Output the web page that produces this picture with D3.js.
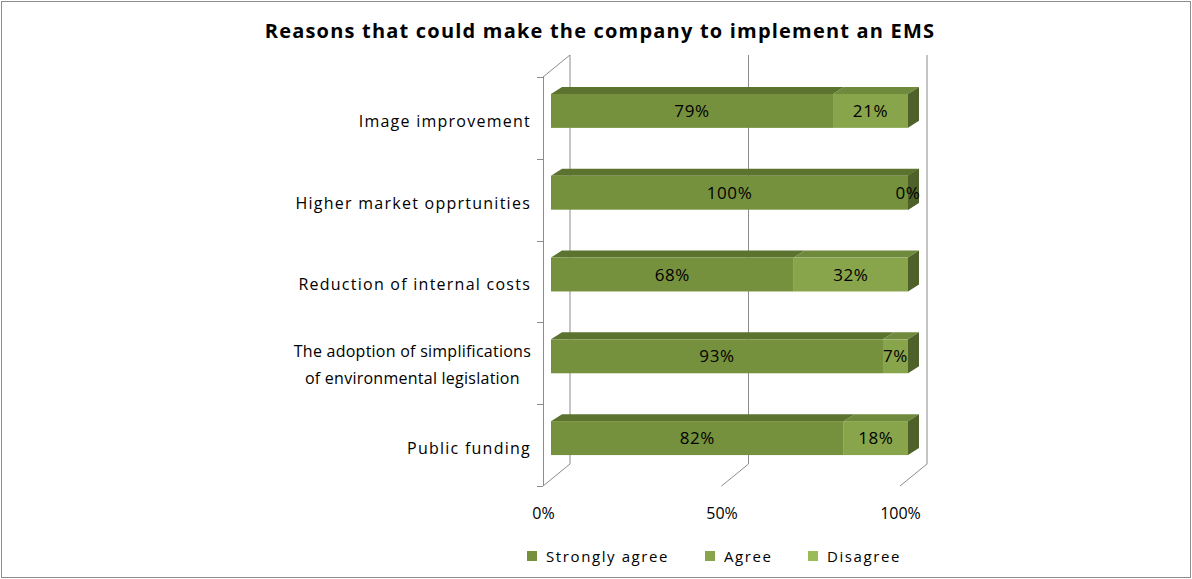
<!DOCTYPE html>
<html>
<head>
<meta charset="utf-8">
<script src="https://cdn.jsdelivr.net/npm/d3@7"></script>
<style>
  body { margin: 0; background: #fff; }
  text { font-family: "Open Sans", sans-serif; fill: #000; }
</style>
</head>
<body>
<script>
// chart data
var categories = ['Image improvement', 'Higher market opprtunities', 'Reduction of internal costs',
    'The adoption of simplifications\nof environmental legislation', 'Public funding'];
var seriesNames = ['Strongly agree', 'Agree', 'Disagree'];
var stronglyAgree = [0.79, 1.00, 0.68, 0.93, 0.82];
var agree = [0.21, 0.00, 0.32, 0.07, 0.18];
var disagree = [null, null, null, null, null];
var xTicks = [0, 0.5, 1];

var W = 1192, H = 579;
var colors = {
    'Strongly agree': { front: '#76913d', top: '#5c722f', side: '#4d6128' },
    'Agree': { front: '#89a54c', top: '#6f8a3d', side: '#4d6128' },
    'Disagree': { front: '#9bbb59', top: '#7f9a48', side: '#5e7533' }
};

var svg = d3.select('body').append('svg')
    .attr('width', W)
    .attr('height', H);

// outer chart border
svg.append('rect')
    .attr('x', 1.5).attr('y', 1.5)
    .attr('width', W - 3).attr('height', H - 3)
    .attr('fill', '#fff')
    .attr('stroke', '#8c8c8c');

// title
svg.append('text')
    .attr('x', 600).attr('y', 38)
    .attr('text-anchor', 'middle')
    .style('font-size', '20px')
    .style('font-weight', 'bold')
    .style('letter-spacing', '1.2px')
    .text('Reasons that could make the company to implement an EMS');

// scales on the front plane of the 3D box
var x = d3.scaleLinear().domain([0, 1]).range([543, 900]);
var y = d3.scaleBand().domain(categories).range([77, 486]);
var depth = [27, -22];      // full depth of the box
var barOff = [8, -7];       // bar front face offset into the box
var barDepth = [11, -7];    // bar thickness
var barH = y.step() * 0.415;

var g = svg.append('g');
var grid = '#8c8c8c';

// back wall gridlines and floor diagonals
xTicks.forEach(function(t) {
    g.append('line')
        .attr('x1', x(t) + depth[0]).attr('x2', x(t) + depth[0])
        .attr('y1', 486 + depth[1]).attr('y2', 77 + depth[1])
        .attr('stroke', grid);
    g.append('line')
        .attr('x1', x(t)).attr('y1', 486)
        .attr('x2', x(t) + depth[0]).attr('y2', 486 + depth[1])
        .attr('stroke', grid);
});
// left wall
g.append('line')
    .attr('x1', 543.5).attr('x2', 543.5).attr('y1', 77).attr('y2', 486)
    .attr('stroke', grid);
g.append('line')
    .attr('x1', 543).attr('y1', 77)
    .attr('x2', 543 + depth[0]).attr('y2', 77 + depth[1])
    .attr('stroke', grid);
// category ticks at band edges
categories.concat(['end']).forEach(function(c, i) {
    var yy = i < categories.length ? y(c) : 486;
    g.append('line')
        .attr('x1', 537).attr('x2', 543)
        .attr('y1', Math.round(yy) + 0.5).attr('y2', Math.round(yy) + 0.5)
        .attr('stroke', grid);
});

// x axis labels
var xAxis = d3.axisBottom(x).tickValues(xTicks).tickFormat(d3.format('.0%'))
    .tickSize(0).tickPadding(22);
var xg = svg.append('g').attr('transform', 'translate(0,486)').call(xAxis);
xg.select('.domain').remove();
xg.selectAll('text').style('font-size', '16px').style('font-family', '"Open Sans", sans-serif').attr('fill', '#000');

// category labels
var yAxis = d3.axisLeft(y).tickSize(0).tickPadding(12);
var yg = svg.append('g').attr('transform', 'translate(543,0)').call(yAxis);
yg.select('.domain').remove();
yg.selectAll('.tick').attr('transform', function(d) {
    return 'translate(0,' + (y(d) + y.step() / 2) + ')';
});
yg.selectAll('text')
    .style('font-size', '16px').style('font-family', '"Open Sans", sans-serif')
    .style('letter-spacing', '1.25px').attr('fill', '#000')
    .attr('dy', '0.55em')
    .each(function(d) {
        var lines = d.split('\n');
        if (lines.length < 2) return;
        // wrapped label is set tighter
        var t = d3.select(this).text(null).attr('dy', null).style('letter-spacing', '0.25px');
        var spans = lines.map(function(l, i) {
            return t.append('tspan').attr('dy', i === 0 ? '-0.4em' : '1.7em').text(l);
        });
        var widths = spans.map(function(s) { return s.node().getComputedTextLength(); });
        var cx = -12 - d3.max(widths) / 2;
        t.attr('text-anchor', 'middle');
        spans.forEach(function(s) { s.attr('x', cx); });
    });

// stack the series
var series = [stronglyAgree, agree, disagree];
var bars = g.append('g');
var labels = g.append('g');
categories.forEach(function(c, i) {
    var start = 0;
    var top = y(c) + y.step() / 2 + barOff[1] - barH / 2;
    series.forEach(function(vals, s) {
        var v = vals[i];
        if (v === null) return;
        var col = colors[seriesNames[s]];
        var x0 = x(start) + barOff[0], x1 = x(start + v) + barOff[0];
        // top face
        bars.append('path')
            .attr('d', 'M' + x0 + ',' + top + 'L' + (x0 + barDepth[0]) + ',' + (top + barDepth[1]) +
                'L' + (x1 + barDepth[0]) + ',' + (top + barDepth[1]) + 'L' + x1 + ',' + top + 'Z')
            .attr('fill', col.top);
        // front face
        bars.append('rect')
            .attr('x', x0).attr('y', top)
            .attr('width', x1 - x0).attr('height', barH)
            .attr('fill', col.front);
        // side face at the end of the stack
        if (start + v >= 0.999) {
            bars.append('path')
                .attr('d', 'M' + x1 + ',' + top + 'L' + (x1 + barDepth[0]) + ',' + (top + barDepth[1]) +
                    'L' + (x1 + barDepth[0]) + ',' + (top + barH + barDepth[1]) + 'L' + x1 + ',' + (top + barH) + 'Z')
                .attr('fill', col.side);
        }
        labels.append('text')
            .attr('x', (x0 + x1) / 2)
            .attr('y', top + barH / 2)
            .attr('dy', '0.36em')
            .attr('text-anchor', 'middle')
            .style('font-size', '17px')
            .style('letter-spacing', '0.6px')
            .text(Math.round(v * 100) + '%');
        start += v;
    });
});

// legend
var legendX = [527, 705, 808];
var legend = svg.append('g');
seriesNames.forEach(function(n, i) {
    legend.append('rect')
        .attr('x', legendX[i]).attr('y', 551)
        .attr('width', 10).attr('height', 10)
        .attr('fill', colors[n].front);
    legend.append('text')
        .attr('x', legendX[i] + 19).attr('y', 562)
        .style('font-size', '15px')
        .style('letter-spacing', '1.6px')
        .text(n);
});
</script>
</body>
</html>
